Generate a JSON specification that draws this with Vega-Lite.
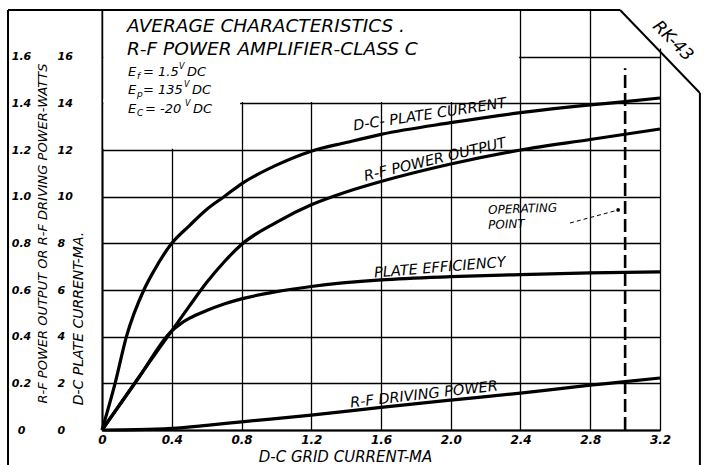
{
  "$schema": "https://vega.github.io/schema/vega-lite/v6.json",
  "width": 558,
  "height": 420,
  "autosize": {"type": "none"},
  "padding": {"left": 102, "top": 10, "right": 45, "bottom": 35},
  "background": "white",
  "config": {
    "font": "DejaVu Sans",
    "view": {"stroke": null},
    "axis": {
      "labelColor": "black", "titleColor": "black",
      "labelFontStyle": "italic", "titleFontStyle": "italic",
      "labelFontWeight": "bold", "titleFontWeight": "normal",
      "ticks": false, "tickSize": 0,
      "domainColor": "black", "domainWidth": 2,
      "gridColor": "black", "gridWidth": 1.3, "gridOpacity": 1,
      "labelOverlap": false, "labelFlush": false
    },
    "text": {"font": "DejaVu Sans", "fontStyle": "italic", "color": "black", "baseline": "middle"}
  },
  "datasets": {
    "plate_current": [
      {"grid_ma": 0, "plate_ma": 0}, {"grid_ma": 0.075, "plate_ma": 2}, {"grid_ma": 0.14, "plate_ma": 4},
      {"grid_ma": 0.24, "plate_ma": 6}, {"grid_ma": 0.3, "plate_ma": 6.85}, {"grid_ma": 0.4, "plate_ma": 8},
      {"grid_ma": 0.5, "plate_ma": 8.75}, {"grid_ma": 0.6, "plate_ma": 9.45}, {"grid_ma": 0.7, "plate_ma": 10},
      {"grid_ma": 0.8, "plate_ma": 10.55}, {"grid_ma": 1.0, "plate_ma": 11.35}, {"grid_ma": 1.2, "plate_ma": 11.95},
      {"grid_ma": 1.4, "plate_ma": 12.32}, {"grid_ma": 1.6, "plate_ma": 12.67}, {"grid_ma": 2.0, "plate_ma": 13.17},
      {"grid_ma": 2.4, "plate_ma": 13.6}, {"grid_ma": 2.8, "plate_ma": 13.93}, {"grid_ma": 3.0, "plate_ma": 14.07},
      {"grid_ma": 3.2, "plate_ma": 14.23}
    ],
    "power_output": [
      {"grid_ma": 0, "watts": 0}, {"grid_ma": 0.2, "watts": 0.215}, {"grid_ma": 0.4, "watts": 0.425},
      {"grid_ma": 0.5, "watts": 0.53}, {"grid_ma": 0.6, "watts": 0.632}, {"grid_ma": 0.7, "watts": 0.72},
      {"grid_ma": 0.8, "watts": 0.795}, {"grid_ma": 1.0, "watts": 0.89}, {"grid_ma": 1.2, "watts": 0.965},
      {"grid_ma": 1.4, "watts": 1.02}, {"grid_ma": 1.6, "watts": 1.065}, {"grid_ma": 2.0, "watts": 1.14},
      {"grid_ma": 2.4, "watts": 1.2}, {"grid_ma": 2.8, "watts": 1.245}, {"grid_ma": 3.2, "watts": 1.29}
    ],
    "plate_efficiency": [
      {"grid_ma": 0, "efficiency": 0}, {"grid_ma": 0.2, "efficiency": 0.212}, {"grid_ma": 0.4, "efficiency": 0.425},
      {"grid_ma": 0.45, "efficiency": 0.455}, {"grid_ma": 0.5, "efficiency": 0.478}, {"grid_ma": 0.6, "efficiency": 0.512},
      {"grid_ma": 0.7, "efficiency": 0.54}, {"grid_ma": 0.8, "efficiency": 0.562}, {"grid_ma": 1.0, "efficiency": 0.593},
      {"grid_ma": 1.2, "efficiency": 0.615}, {"grid_ma": 1.6, "efficiency": 0.643}, {"grid_ma": 2.0, "efficiency": 0.657},
      {"grid_ma": 2.4, "efficiency": 0.666}, {"grid_ma": 2.8, "efficiency": 0.673}, {"grid_ma": 3.2, "efficiency": 0.678}
    ],
    "driving_power": [
      {"grid_ma": 0, "watts": 0}, {"grid_ma": 0.2, "watts": 0.0015}, {"grid_ma": 0.4, "watts": 0.007},
      {"grid_ma": 0.6, "watts": 0.02}, {"grid_ma": 0.8, "watts": 0.035}, {"grid_ma": 1.2, "watts": 0.064},
      {"grid_ma": 1.6, "watts": 0.097}, {"grid_ma": 2.0, "watts": 0.128}, {"grid_ma": 2.4, "watts": 0.158},
      {"grid_ma": 2.8, "watts": 0.192}, {"grid_ma": 3.0, "watts": 0.207}, {"grid_ma": 3.2, "watts": 0.223}
    ]
  },
  "resolve": {"scale": {"y": "independent"}},
  "layer": [
    {
      "layer": [
        {
          "data": {"values": [{}]},
          "mark": {"type": "rect", "fill": "white", "opacity": 1},
          "encoding": {
            "x": {"datum": 0.008, "type": "quantitative"}, "x2": {"datum": 2.392},
            "y": {"datum": 14.06, "type": "quantitative"}, "y2": {"datum": 18.2}
          }
        },
        {
          "data": {"values": [{}]},
          "mark": {"type": "rect", "fill": "white", "opacity": 1},
          "encoding": {
            "x": {"datum": 0.008, "type": "quantitative"}, "x2": {"datum": 0.792},
            "y": {"datum": 12.05, "type": "quantitative"}, "y2": {"datum": 14.2}
          }
        },
        {
          "data": {"values": [{}]},
          "mark": {"type": "rect", "fill": "white", "opacity": 1},
          "encoding": {
            "x": {"datum": 3.05, "type": "quantitative"}, "x2": {"datum": 3.35},
            "y": {"datum": 16.35, "type": "quantitative"}, "y2": {"datum": 18.3}
          }
        },
        {
          "data": {"values": [{}]},
          "mark": {"type": "rule", "color": "black", "strokeWidth": 2},
          "encoding": {
            "x": {"datum": -0.539, "type": "quantitative"},
            "y": {"datum": -1.6, "type": "quantitative"}, "y2": {"datum": 18}
          }
        },
        {
          "data": {"values": [{}]},
          "mark": {"type": "rule", "color": "black", "strokeWidth": 2},
          "encoding": {
            "x": {"datum": -0.539, "type": "quantitative"}, "x2": {"datum": 2.971},
            "y": {"datum": 18, "type": "quantitative"}
          }
        },
        {
          "data": {"values": [{}]},
          "mark": {"type": "rule", "color": "black", "strokeWidth": 2},
          "encoding": {
            "x": {"datum": 2.971, "type": "quantitative"}, "x2": {"datum": 3.429},
            "y": {"datum": 18, "type": "quantitative"}, "y2": {"datum": 14.44}
          }
        },
        {
          "data": {"values": [{}]},
          "mark": {"type": "rule", "color": "black", "strokeWidth": 2},
          "encoding": {
            "x": {"datum": 3.429, "type": "quantitative"},
            "y": {"datum": 14.44, "type": "quantitative"}, "y2": {"datum": -1.6}
          }
        },
        {
          "data": {"values": [{}]},
          "mark": {"type": "rule", "color": "black", "strokeWidth": 2.6, "strokeDash": [13, 5]},
          "encoding": {
            "x": {"datum": 3.0, "type": "quantitative"},
            "y": {"datum": 0, "type": "quantitative"}, "y2": {"datum": 15.5}
          }
        },
        {
          "data": {"values": [{}]},
          "mark": {"type": "rule", "color": "black", "strokeWidth": 1, "strokeDash": [4, 3]},
          "encoding": {
            "x": {"datum": 2.684, "type": "quantitative"}, "x2": {"datum": 2.96},
            "y": {"datum": 8.871, "type": "quantitative"}, "y2": {"datum": 9.43}
          }
        },
        {
          "data": {"values": [{}]},
          "mark": {"type": "point", "filled": true, "color": "black", "size": 14, "opacity": 1},
          "encoding": {
            "x": {"datum": 2.96, "type": "quantitative"},
            "y": {"datum": 9.43, "type": "quantitative"}
          }
        },
        {
          "data": {"name": "plate_current"},
          "mark": {"type": "line", "color": "black", "strokeWidth": 3.2, "interpolate": "monotone"},
          "encoding": {
            "x": {
              "field": "grid_ma", "type": "quantitative",
              "scale": {"domain": [0, 3.2], "nice": false, "zero": false},
              "axis": {
                "title": "D-C GRID CURRENT-MA",
                "values": [0, 0.4, 0.8, 1.2, 1.6, 2.0, 2.4, 2.8, 3.2],
                "labelExpr": "datum.value == 0 ? '0' : format(datum.value, '.1f')",
                "labelFontSize": 12, "labelPadding": 4, "grid": true,
                "titleFontSize": 15, "titleX": 243, "titleY": 26,
                "titleAlign": "center", "titleBaseline": "middle"
              }
            },
            "y": {
              "field": "plate_ma", "type": "quantitative",
              "scale": {"domain": [0, 18], "nice": false, "zero": false},
              "axis": {
                "title": "D-C PLATE CURRENT-MA.",
                "values": [0, 2, 4, 6, 8, 10, 12, 14, 16],
                "labelAlign": "left", "labelBaseline": "middle", "labelPadding": 45,
                "labelFontSize": 11, "grid": true,
                "titleAngle": -90, "titleX": -24, "titleY": 308,
                "titleAlign": "center", "titleBaseline": "middle", "titleFontSize": 14
              }
            }
          }
        },
        {
          "data": {"values": [{}]},
          "mark": {"type": "text", "text": "AVERAGE CHARACTERISTICS .", "align": "left", "fontSize": 18.5},
          "encoding": {"x": {"datum": 0.143, "type": "quantitative"}, "y": {"datum": 17.3, "type": "quantitative"}}
        },
        {
          "data": {"values": [{}]},
          "mark": {"type": "text", "text": "R-F POWER AMPLIFIER-CLASS C", "align": "left", "fontSize": 18.5},
          "encoding": {"x": {"datum": 0.143, "type": "quantitative"}, "y": {"datum": 16.35, "type": "quantitative"}}
        },
        {
          "data": {"values": [{}]},
          "mark": {"type": "text", "text": "E", "align": "left", "fontSize": 13},
          "encoding": {"x": {"datum": 0.149, "type": "quantitative"}, "y": {"datum": 15.343, "type": "quantitative"}}
        },
        {
          "data": {"values": [{}]},
          "mark": {"type": "text", "text": "f", "align": "left", "fontSize": 9, "dx": 9, "dy": 4},
          "encoding": {"x": {"datum": 0.149, "type": "quantitative"}, "y": {"datum": 15.343, "type": "quantitative"}}
        },
        {
          "data": {"values": [{}]},
          "mark": {"type": "text", "text": "= 1.5", "align": "left", "fontSize": 13, "dx": 15},
          "encoding": {"x": {"datum": 0.149, "type": "quantitative"}, "y": {"datum": 15.343, "type": "quantitative"}}
        },
        {
          "data": {"values": [{}]},
          "mark": {"type": "text", "text": "V", "align": "left", "fontSize": 8, "dx": 51, "dy": -5},
          "encoding": {"x": {"datum": 0.149, "type": "quantitative"}, "y": {"datum": 15.343, "type": "quantitative"}}
        },
        {
          "data": {"values": [{}]},
          "mark": {"type": "text", "text": "DC", "align": "left", "fontSize": 13, "dx": 59},
          "encoding": {"x": {"datum": 0.149, "type": "quantitative"}, "y": {"datum": 15.343, "type": "quantitative"}}
        },
        {
          "data": {"values": [{}]},
          "mark": {"type": "text", "text": "E", "align": "left", "fontSize": 13},
          "encoding": {"x": {"datum": 0.149, "type": "quantitative"}, "y": {"datum": 14.571, "type": "quantitative"}}
        },
        {
          "data": {"values": [{}]},
          "mark": {"type": "text", "text": "p", "align": "left", "fontSize": 9, "dx": 9, "dy": 4},
          "encoding": {"x": {"datum": 0.149, "type": "quantitative"}, "y": {"datum": 14.571, "type": "quantitative"}}
        },
        {
          "data": {"values": [{}]},
          "mark": {"type": "text", "text": "= 135", "align": "left", "fontSize": 13, "dx": 15},
          "encoding": {"x": {"datum": 0.149, "type": "quantitative"}, "y": {"datum": 14.571, "type": "quantitative"}}
        },
        {
          "data": {"values": [{}]},
          "mark": {"type": "text", "text": "V", "align": "left", "fontSize": 8, "dx": 56, "dy": -5},
          "encoding": {"x": {"datum": 0.149, "type": "quantitative"}, "y": {"datum": 14.571, "type": "quantitative"}}
        },
        {
          "data": {"values": [{}]},
          "mark": {"type": "text", "text": "DC", "align": "left", "fontSize": 13, "dx": 64},
          "encoding": {"x": {"datum": 0.149, "type": "quantitative"}, "y": {"datum": 14.571, "type": "quantitative"}}
        },
        {
          "data": {"values": [{}]},
          "mark": {"type": "text", "text": "E", "align": "left", "fontSize": 13},
          "encoding": {"x": {"datum": 0.149, "type": "quantitative"}, "y": {"datum": 13.757, "type": "quantitative"}}
        },
        {
          "data": {"values": [{}]},
          "mark": {"type": "text", "text": "C", "align": "left", "fontSize": 9, "dx": 9, "dy": 4},
          "encoding": {"x": {"datum": 0.149, "type": "quantitative"}, "y": {"datum": 13.757, "type": "quantitative"}}
        },
        {
          "data": {"values": [{}]},
          "mark": {"type": "text", "text": "= -20", "align": "left", "fontSize": 13, "dx": 17},
          "encoding": {"x": {"datum": 0.149, "type": "quantitative"}, "y": {"datum": 13.757, "type": "quantitative"}}
        },
        {
          "data": {"values": [{}]},
          "mark": {"type": "text", "text": "V", "align": "left", "fontSize": 8, "dx": 57, "dy": -5},
          "encoding": {"x": {"datum": 0.149, "type": "quantitative"}, "y": {"datum": 13.757, "type": "quantitative"}}
        },
        {
          "data": {"values": [{}]},
          "mark": {"type": "text", "text": "DC", "align": "left", "fontSize": 13, "dx": 65},
          "encoding": {"x": {"datum": 0.149, "type": "quantitative"}, "y": {"datum": 13.757, "type": "quantitative"}}
        },
        {
          "data": {"values": [{}]},
          "mark": {"type": "text", "text": "D-C- PLATE CURRENT", "align": "center", "fontSize": 14.5, "angle": -8.6},
          "encoding": {"x": {"datum": 1.88, "type": "quantitative"}, "y": {"datum": 13.5, "type": "quantitative"}}
        },
        {
          "data": {"values": [{}]},
          "mark": {"type": "text", "text": "R-F POWER OUTPUT", "align": "center", "fontSize": 14.5, "angle": -13.5},
          "encoding": {"x": {"datum": 1.91, "type": "quantitative"}, "y": {"datum": 11.57, "type": "quantitative"}}
        },
        {
          "data": {"values": [{}]},
          "mark": {"type": "text", "text": "PLATE EFFICIENCY", "align": "center", "fontSize": 14.5, "angle": -4.8},
          "encoding": {"x": {"datum": 1.938, "type": "quantitative"}, "y": {"datum": 6.94, "type": "quantitative"}}
        },
        {
          "data": {"values": [{}]},
          "mark": {"type": "text", "text": "R-F DRIVING POWER", "align": "center", "fontSize": 14.5, "angle": -6.6},
          "encoding": {"x": {"datum": 1.847, "type": "quantitative"}, "y": {"datum": 1.5, "type": "quantitative"}}
        },
        {
          "data": {"values": [{}]},
          "mark": {"type": "text", "text": "OPERATING", "align": "left", "fontSize": 12, "angle": -2},
          "encoding": {"x": {"datum": 2.214, "type": "quantitative"}, "y": {"datum": 9.43, "type": "quantitative"}}
        },
        {
          "data": {"values": [{}]},
          "mark": {"type": "text", "text": "POINT", "align": "left", "fontSize": 12, "angle": -2},
          "encoding": {"x": {"datum": 2.214, "type": "quantitative"}, "y": {"datum": 8.79, "type": "quantitative"}}
        },
        {
          "data": {"values": [{}]},
          "mark": {"type": "text", "text": "RK-43", "align": "center", "fontSize": 17, "angle": 45},
          "encoding": {"x": {"datum": 3.274, "type": "quantitative"}, "y": {"datum": 16.67, "type": "quantitative"}}
        }
      ]
    },
    {
      "layer": [
        {
          "data": {"name": "power_output"},
          "mark": {"type": "line", "color": "black", "strokeWidth": 3.2, "interpolate": "monotone"},
          "encoding": {
            "x": {"field": "grid_ma", "type": "quantitative", "scale": {"domain": [0, 3.2], "nice": false, "zero": false}},
            "y": {
              "field": "watts", "type": "quantitative",
              "title": "R-F POWER OUTPUT OR R-F DRIVING POWER-WATTS",
              "scale": {"domain": [0, 1.8], "nice": false, "zero": false},
              "axis": {
                "orient": "left",
                "values": [0, 0.2, 0.4, 0.6, 0.8, 1.0, 1.2, 1.4, 1.6],
                "labelExpr": "datum.value == 0 ? '0' : format(datum.value, '.1f')",
                "labelAlign": "center", "labelBaseline": "middle", "labelPadding": 81,
                "labelFontSize": 11, "grid": false, "domain": false,
                "titleAngle": -90, "titleX": -60, "titleY": 223,
                "titleAlign": "center", "titleBaseline": "middle", "titleFontSize": 13
              }
            }
          }
        },
        {
          "data": {"name": "plate_efficiency"},
          "mark": {"type": "line", "color": "black", "strokeWidth": 3.2, "interpolate": "monotone"},
          "encoding": {
            "x": {"field": "grid_ma", "type": "quantitative", "scale": {"domain": [0, 3.2], "nice": false, "zero": false}},
            "y": {
              "field": "efficiency", "type": "quantitative",
              "title": "R-F POWER OUTPUT OR R-F DRIVING POWER-WATTS",
              "scale": {"domain": [0, 1.8], "nice": false, "zero": false}
            }
          }
        },
        {
          "data": {"name": "driving_power"},
          "mark": {"type": "line", "color": "black", "strokeWidth": 3.2, "interpolate": "monotone"},
          "encoding": {
            "x": {"field": "grid_ma", "type": "quantitative", "scale": {"domain": [0, 3.2], "nice": false, "zero": false}},
            "y": {
              "field": "watts", "type": "quantitative",
              "title": "R-F POWER OUTPUT OR R-F DRIVING POWER-WATTS",
              "scale": {"domain": [0, 1.8], "nice": false, "zero": false}
            }
          }
        }
      ]
    }
  ]
}
